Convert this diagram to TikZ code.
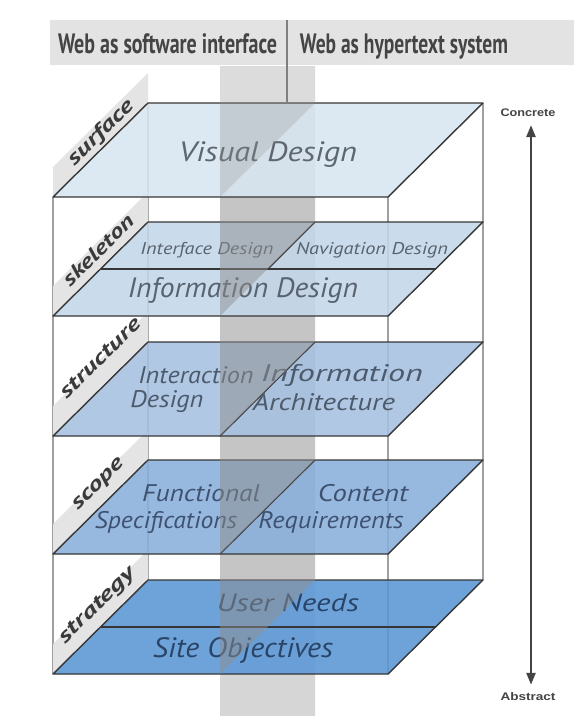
\documentclass[tikz,border=0pt]{standalone}
\usepackage{fontspec}
\usepackage{graphicx}
\setmainfont{PT Sans}
\newfontfamily\headfont{PT Sans}
\newfontfamily\planefont{PT Sans}
\newfontfamily\endfont{Liberation Sans}
\usetikzlibrary{arrows.meta}

\definecolor{edgec}{HTML}{363636}
\definecolor{framec}{HTML}{A0A0A0}
\definecolor{headbg}{HTML}{E3E3E3}
\definecolor{headtx}{HTML}{444444}
\definecolor{surfc}{HTML}{D8E6F1}
\definecolor{skelc}{HTML}{C3D7EA}
\definecolor{strucc}{HTML}{A6C1E0}
\definecolor{scopc}{HTML}{89B0DB}
\definecolor{stratc}{HTML}{5A97D6}
\definecolor{wallc}{HTML}{8C8C8C}
\definecolor{tabc}{HTML}{E4E4E4}
\definecolor{labtx}{HTML}{3A3A3A}
\definecolor{txsurf}{HTML}{5E6770}
\definecolor{txskel}{HTML}{58636E}
\definecolor{txstruc}{HTML}{4C5A6C}
\definecolor{txscop}{HTML}{3E5170}
\definecolor{txstrat}{HTML}{2A4468}

% squeeze a text to a given width, keeping its height
\newcommand\fitw[2]{\resizebox{#1}{\height}{#2}}

\tikzset{
  planefill/.style={fill opacity=0.88},
  planeedge/.style={draw=edgec, line width=1.4pt, line join=round},
  innerline/.style={draw=edgec, line width=1.2pt},
  framel/.style={draw=framec, line width=1.1pt},
  wallseg/.style={fill=wallc, fill opacity=0.5},
  tabface/.style={fill=tabc},
  headtxt/.style={font=\headfont\bfseries\fontsize{28}{30}\selectfont, text=headtx, inner sep=0, anchor=base},
  ptxt/.style={inner sep=0},
  sidelab/.style={font=\planefont\bfseries\itshape\fontsize{20}{22}\selectfont, text=labtx, inner sep=0, rotate=44.7},
  endlab/.style={font=\endfont\bfseries\fontsize{11}{13}\selectfont, text=headtx, inner sep=1pt},
}

% one layer: back edge at y=#1, fill colour #2
\newcommand\layerplane[2]{%
  \fill[tabface] (53,#1+94) -- (148,#1) -- (148,#1-30) -- (53,#1+64) -- cycle;
  \fill[#2, planefill] (148,#1) -- (483,#1) -- (388,#1+94) -- (53,#1+94) -- cycle;
  \draw[planeedge] (148,#1) -- (483,#1) -- (388,#1+94) -- (53,#1+94) -- cycle;
}
% the middle wall between two layer levels (back edges #1 below, #2 above)
\newcommand\wallpart[2]{%
  \fill[wallseg] (220,#1+94) -- (315,#1) -- (315,#2) -- (220,#2+94) -- cycle;
}

\begin{document}
\begin{tikzpicture}[x=1pt,y=-1pt]
\useasboundingbox (0,0) rectangle (574,716);
\fill[white] (0,0) rectangle (574,716);

% column headings
\fill[headbg] (50,20) rectangle (574,65);
\node[headtxt] (hleft) at (167.5,53) {\fitw{219pt}{Web as software interface}};
\node[headtxt] (hright) at (404,53) {\fitw{208pt}{Web as hypertext system}};

% box frame
\draw[framel] (148,103) -- (148,580);
\draw[framel] (483,103) -- (483,580);
\draw[framel] (53,197) -- (53,674);
\draw[framel] (388,197) -- (388,674);

% wall below the lowest plane
\fill[wallseg, fill opacity=0.35] (220,674) -- (315,580) -- (315,716) -- (220,716) -- cycle;

% strategy
\layerplane{580}{stratc}
\draw[innerline] (100.5,627) -- (435.5,627);
\node[ptxt, font=\planefont\itshape\fontsize{25}{27}\selectfont, text=txstrat] (userneeds) at (288,603) {\fitw{142pt}{User Needs}};
\node[ptxt, font=\planefont\itshape\fontsize{28}{30}\selectfont, text=txstrat] (siteobj) at (243,650) {\fitw{180pt}{Site Objectives}};
\node[sidelab] (lstrategy) at (98,606) {\fitw{100pt}{strategy}};
\wallpart{580}{460}

% scope
\layerplane{460}{scopc}
\draw[innerline] (220,554) -- (315,460);
\node[ptxt, font=\planefont\itshape\fontsize{24}{26}\selectfont, text=txscop] (funcA) at (201,493) {\fitw{118pt}{Functional}};
\node[ptxt, font=\planefont\itshape\fontsize{24}{26}\selectfont, text=txscop] (funcB) at (166,522) {\fitw{142pt}{Specifications}};
\node[ptxt, font=\planefont\itshape\fontsize{24}{26}\selectfont, text=txscop] (contA) at (363,493) {\fitw{90pt}{Content}};
\node[ptxt, font=\planefont\itshape\fontsize{24}{26}\selectfont, text=txscop] (contB) at (331,522) {\fitw{145pt}{Requirements}};
\node[sidelab] (lscope) at (99,485) {\fitw{66pt}{scope}};
\wallpart{460}{342}

% structure
\layerplane{342}{strucc}
\draw[innerline] (220,436) -- (315,342);
\node[ptxt, font=\planefont\itshape\fontsize{24}{26}\selectfont, text=txstruc] (interA) at (196,375) {\fitw{115pt}{Interaction}};
\node[ptxt, font=\planefont\itshape\fontsize{24}{26}\selectfont, text=txstruc] (interB) at (167,402) {\fitw{73pt}{Design}};
\node[ptxt, font=\planefont\itshape\fontsize{24}{26}\selectfont, text=txstruc] (archA) at (342,375) {\fitw{162pt}{Information}};
\node[ptxt, font=\planefont\itshape\fontsize{24}{26}\selectfont, text=txstruc] (archB) at (324,402) {\fitw{142pt}{Architecture}};
\node[sidelab] (lstructure) at (100,358) {\fitw{106pt}{structure}};
\wallpart{342}{222}

% skeleton
\layerplane{222}{skelc}
\draw[innerline] (100.5,269) -- (435.5,269);
\draw[innerline] (268,269) -- (315,222);
\node[ptxt, font=\planefont\itshape\fontsize{17}{19}\selectfont, text=txskel] (ifdesign) at (207,250) {\fitw{133pt}{Interface Design}};
\node[ptxt, font=\planefont\itshape\fontsize{17}{19}\selectfont, text=txskel] (navdesign) at (372,250) {\fitw{152pt}{Navigation Design}};
\node[ptxt, font=\planefont\itshape\fontsize{28}{30}\selectfont, text=txskel] (infodesign) at (243,290) {\fitw{230pt}{Information Design}};
\node[sidelab] (lskeleton) at (98,250) {\fitw{92pt}{skeleton}};
\wallpart{222}{103}

% surface
\layerplane{103}{surfc}
\node[ptxt, font=\planefont\itshape\fontsize{28}{30}\selectfont, text=txsurf] (visdesign) at (268,155) {\fitw{178pt}{Visual Design}};
\node[sidelab] (lsurface) at (101,133) {\fitw{85pt}{surface}};
\fill[wallseg, fill opacity=0.3] (220,197) -- (315,103) -- (315,66) -- (220,66) -- cycle;

% divider between the two headings
\draw[framec!80!black, line width=2pt] (287,20) -- (287,103);

% concrete / abstract scale
\node[endlab] (concrete) at (528,113) {\fitw{55pt}{Concrete}};
\node[endlab] (abstract) at (528,697) {\fitw{55pt}{Abstract}};
\draw[headtx, line width=2.4pt, {Triangle[length=12pt,width=9pt]}-{Triangle[length=12pt,width=9pt]}]
  ([xshift=3pt,yshift=-7pt]concrete.south) -- ([xshift=3pt,yshift=7pt]abstract.north);
\end{tikzpicture}
\end{document}
